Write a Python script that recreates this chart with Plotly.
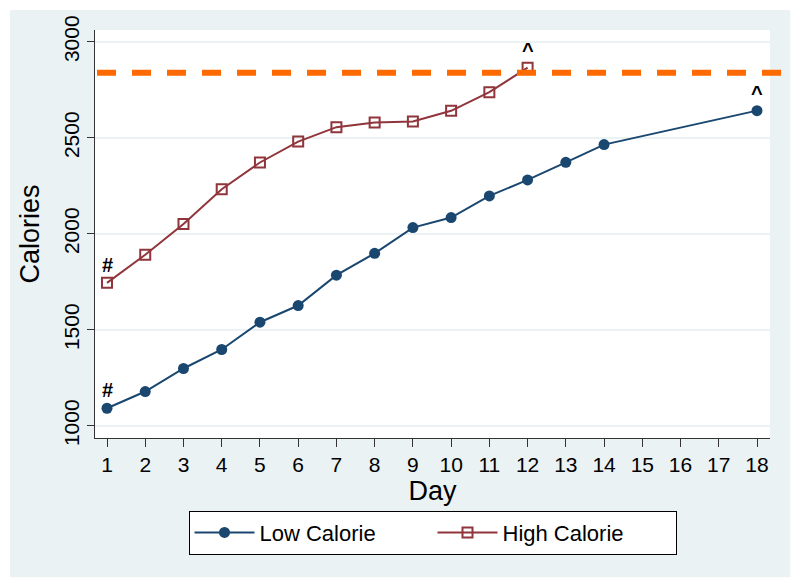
import plotly.graph_objects as go

# data
low_days = [1, 2, 3, 4, 5, 6, 7, 8, 9, 10, 11, 12, 13, 14, 18]
low_cal = [1092, 1179, 1299, 1398, 1540, 1627, 1785, 1899, 2033, 2085, 2198, 2281, 2373, 2465, 2642]
high_days = [1, 2, 3, 4, 5, 6, 7, 8, 9, 10, 11, 12]
high_cal = [1745, 1891, 2051, 2233, 2372, 2481, 2556, 2580, 2585, 2641, 2738, 2866]
target = 2839
day_ticks = list(range(1, 19))
cal_ticks = [1000, 1500, 2000, 2500, 3000]

# point markers: (day, calories, symbol)
marks = [(1, low_cal[0], "#"), (18, low_cal[-1], "^"),
         (1, high_cal[0], "#"), (12, high_cal[-1], "^")]

NAVY = "#1a476f"
MAROON = "#90353b"
ORANGE = "#ff6a00"
PANEL = "#eaf2f3"
FONT = "Liberation Sans, Arial, sans-serif"

fig = go.Figure()

fig.add_trace(go.Scatter(x=low_days, y=low_cal, mode="lines+markers", name="Low Calorie",
                         line=dict(color=NAVY, width=2),
                         marker=dict(symbol="circle", size=11, color=NAVY)))
fig.add_trace(go.Scatter(x=high_days, y=high_cal, mode="lines+markers", name="High Calorie",
                         line=dict(color=MAROON, width=2),
                         marker=dict(symbol="square-open", size=10, color=MAROON, line=dict(width=2))))

for d, c, s in marks:
    fig.add_annotation(x=d, y=c, text="<b>%s</b>" % s, showarrow=False, yshift=18,
                       font=dict(size=20, color="black", family=FONT))

# grey panel, white plot region on top of it
fig.add_shape(type="rect", xref="paper", yref="paper", x0=-0.126, x1=1.03, y0=-0.341, y1=1.049,
              fillcolor=PANEL, line_width=0, layer="below")
fig.add_shape(type="rect", xref="paper", yref="paper", x0=0, x1=1, y0=0, y1=1,
              fillcolor="white", line_width=0, layer="below")

# reference line running past the plot edge
fig.add_shape(type="line", xref="paper", yref="y", x0=0.003, x1=1.025, y0=target, y1=target,
              line=dict(color=ORANGE, width=6, dash="19px,16px"), layer="above")

# page body adds an 8px offset, so the margins are shifted back by that much
fig.update_layout(
    width=800, height=588,
    margin=dict(l=87, r=38, t=22, b=158),
    paper_bgcolor="white", plot_bgcolor="white",
    font=dict(family=FONT, color="black", size=20),
    showlegend=True,
    legend=dict(orientation="h", x=0.5, xanchor="center", y=-0.178, yanchor="top",
                bgcolor="white", bordercolor="black", borderwidth=1,
                font=dict(size=22), itemwidth=60, entrywidthmode="pixels", entrywidth=168),
)

fig.update_xaxes(range=[0.686, 18.34], tickmode="array", tickvals=day_ticks, automargin=False,
                 ticks="outside", ticklen=8, tickcolor="#333", showgrid=False, zeroline=False,
                 showline=True, linecolor="#333", linewidth=1, tickfont=dict(size=21),
                 title=dict(text="Day", font=dict(size=27), standoff=0))
fig.update_yaxes(range=[937, 3062], tickmode="array", tickvals=cal_ticks, tickangle=-90,
                 automargin=False, tickfont=dict(size=21),
                 ticks="outside", ticklen=7, tickcolor="#333", showgrid=True, gridcolor=PANEL,
                 gridwidth=1.5, zeroline=False, showline=True, linecolor="#333", linewidth=1,
                 title=dict(text="Calories", font=dict(size=27), standoff=12))

fig.write_html("out.html")
